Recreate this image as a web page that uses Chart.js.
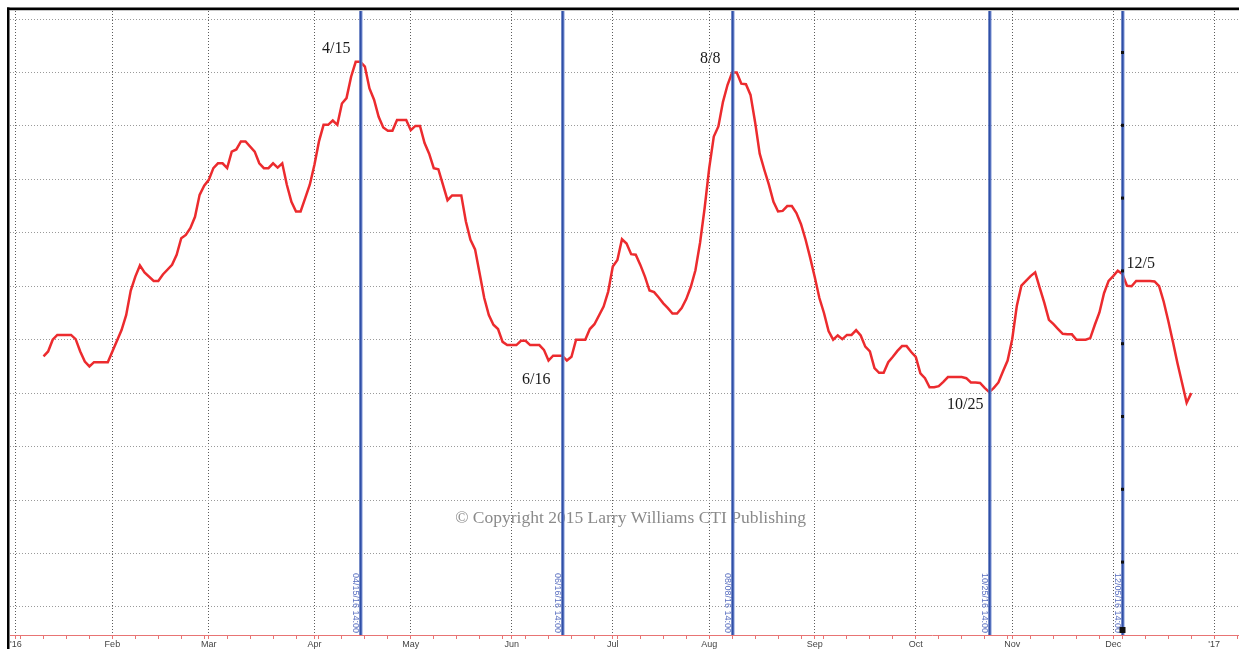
<!DOCTYPE html>
<html>
<head>
<meta charset="utf-8">
<script src="https://cdn.jsdelivr.net/npm/chart.js@4"></script>
<style>
  html, body { margin: 0; padding: 0; background: #fff; }
  #wrap { position: relative; width: 1239px; height: 649px; }
</style>
</head>
<body>
<div id="wrap"><canvas id="cycle"></canvas></div>
<script>
// x = weekday count from Jan 1 2016
const monthTickIdx = [0, 21, 42, 65, 86, 108, 130, 151, 174, 196, 217, 239, 261];
const monthLabels = ["'16", 'Feb', 'Mar', 'Apr', 'May', 'Jun', 'Jul', 'Aug', 'Sep', 'Oct', 'Nov', 'Dec', "'17"];
const gridValues = [0, 10, 20, 30, 40, 50, 60, 70, 80, 90, 100, 110];

// turning points (blue lines)
const turnIdx = [75, 119, 156, 212, 241];
const turnLabels = ['4/15', '6/16', '8/8', '10/25', '12/5'];
const turnStamps = ['04/15/16 14:00', '06/16/16 14:00', '08/08/16 14:00', '10/25/16 14:00', '12/05/16 14:00'];

const dayIndex = [
  6, 7, 8, 9, 12, 13, 14, 15, 16, 17, 20, 21, 23, 24, 25, 26, 27, 28, 30, 31,
  32, 34, 35, 36, 37, 38, 39, 40, 41, 42, 43, 44, 45, 46, 47, 48, 49, 50, 52, 53,
  54, 55, 56, 57, 58, 59, 60, 61, 62, 63, 64, 65, 66, 67, 68, 69, 70, 71, 72, 73,
  74, 75, 76, 77, 78, 79, 80, 81, 82, 83, 85, 86, 87, 88, 89, 90, 91, 92, 93, 94,
  95, 97, 98, 99, 100, 101, 102, 103, 104, 105, 106, 107, 109, 110, 111, 112, 114, 115, 116, 117,
  119, 120, 121, 122, 124, 125, 126, 128, 129, 130, 131, 132, 133, 134, 135, 136, 137, 138, 139, 140,
  141, 142, 143, 144, 145, 146, 147, 148, 149, 150, 151, 152, 153, 154, 155, 156, 157, 158, 159, 160,
  161, 162, 163, 164, 165, 166, 167, 168, 169, 170, 171, 172, 173, 174, 175, 176, 177, 178, 179, 180,
  181, 182, 183, 184, 185, 186, 187, 188, 189, 190, 191, 192, 193, 194, 195, 196, 197, 198, 199, 200,
  201, 202, 203, 204, 205, 206, 207, 208, 209, 210, 211, 212, 213, 214, 215, 216, 217, 218, 219, 220,
  221, 222, 223, 224, 225, 226, 227, 228, 229, 230, 231, 232, 233, 234, 235, 236, 237, 238, 239, 240,
  241, 242, 243, 244, 245, 246, 247, 248, 249, 250, 251, 252, 253, 254, 255, 256
];
const cycleValues = [
  46.9, 47.8, 50.0, 50.9, 50.9, 50.1, 47.8, 45.9, 45.0, 45.8, 45.8, 47.8, 51.8, 54.6, 59.2, 61.8, 63.9, 62.6, 61.0, 61.0,
  62.2, 64.0, 65.9, 69.0, 69.6, 70.9, 73.0, 77.1, 78.8, 79.9, 82.1, 83.0, 83.0, 82.1, 85.2, 85.6, 87.1, 87.1, 85.2, 83.0,
  82.1, 82.1, 83.0, 82.2, 83.0, 79.0, 75.8, 74.0, 74.0, 76.5, 79.0, 82.7, 87.1, 90.2, 90.2, 91.0, 90.2, 94.2, 95.2, 99.2,
  102.0, 102.0, 101.1, 97.0, 94.9, 91.7, 89.7, 89.1, 89.1, 91.1, 91.1, 89.2, 90.0, 90.0, 86.8, 84.8, 82.1, 81.9, 79.0, 76.1,
  77.0, 77.0, 72.1, 68.7, 66.9, 62.4, 57.8, 54.6, 52.8, 52.0, 49.6, 49.0, 49.0, 49.8, 49.8, 49.0, 49.0, 48.1, 46.1, 47.0,
  47.0, 46.1, 46.8, 50.0, 50.0, 52.0, 52.9, 56.2, 59.0, 63.7, 64.9, 68.8, 68.0, 66.0, 65.9, 64.0, 61.8, 59.2, 58.9, 57.9,
  56.8, 55.9, 54.9, 54.9, 55.9, 57.6, 59.9, 63.0, 68.1, 74.6, 82.1, 88.0, 89.9, 94.5, 97.7, 100.0, 100.0, 97.9, 97.8, 95.8,
  90.7, 84.8, 81.8, 79.0, 75.8, 74.0, 74.1, 75.0, 75.0, 73.7, 71.6, 68.7, 65.3, 61.7, 57.8, 55.0, 51.6, 50.0, 50.8, 50.1,
  50.9, 50.9, 51.8, 50.8, 48.7, 47.8, 44.7, 43.8, 43.8, 45.8, 46.8, 47.9, 48.8, 48.8, 47.7, 46.8, 43.7, 42.8, 41.1, 41.1,
  41.3, 42.1, 43.0, 43.0, 43.0, 43.0, 42.8, 42.0, 42.0, 41.9, 41.0, 40.2, 41.0, 42.0, 44.1, 46.1, 50.1, 56.3, 60.1, 61.0,
  61.9, 62.6, 59.7, 56.9, 53.7, 52.9, 52.0, 51.1, 51.0, 51.0, 50.0, 50.0, 50.0, 50.3, 52.8, 55.1, 58.7, 61.0, 61.9, 62.9,
  62.3, 60.1, 60.0, 61.0, 61.0, 61.0, 61.0, 60.9, 60.0, 57.1, 53.5, 49.6, 45.6, 41.9, 38.2, 40.0
];

// weekly (Monday) minor ticks plus month starts
const xTicks = [...monthTickIdx];
for (let d = 1; d < 267; d += 5) {
  if (!xTicks.includes(d)) xTicks.push(d);
}
xTicks.sort((a, b) => a - b);

// label placement relative to the blue line / curve: [dx, dy, align]
const labelOffsets = [[-10, -13, 'right'], [-12, 24, 'right'], [-12, -14, 'right'], [-6, 13, 'right'], [4, -10, 'left']];

function valueAt(idx) {
  let best = 0;
  for (let i = 0; i < dayIndex.length; i++) {
    if (Math.abs(dayIndex[i] - idx) < Math.abs(dayIndex[best] - idx)) best = i;
  }
  return cycleValues[best];
}

const overlay = {
  id: 'overlay',
  afterDatasetsDraw(chart) {
    const ctx = chart.ctx;
    const area = chart.chartArea;
    const xs = chart.scales.x, ys = chart.scales.y;
    ctx.save();

    // copyright
    ctx.font = '17.5px "Liberation Serif", serif';
    ctx.fillStyle = '#8a8a8a';
    ctx.textAlign = 'center';
    ctx.textBaseline = 'middle';
    ctx.fillText('\u00a9 Copyright 2015 Larry Williams CTI Publishing', area.left + (area.right - area.left) * 0.505, area.top + (area.bottom - area.top) * 0.813);

    turnIdx.forEach((d, i) => {
      const px = Math.round(xs.getPixelForValue(d)) + 0.5;
      // blue line
      ctx.strokeStyle = '#7f95d6';
      ctx.lineWidth = 3;
      ctx.beginPath();
      ctx.moveTo(px + 0.5, area.top);
      ctx.lineTo(px + 0.5, area.bottom);
      ctx.stroke();
      ctx.strokeStyle = '#2f4fa6';
      ctx.lineWidth = 2;
      ctx.beginPath();
      ctx.moveTo(px, area.top);
      ctx.lineTo(px, area.bottom);
      ctx.stroke();

      // rotated time stamp
      ctx.save();
      ctx.translate(px - 5, area.bottom - 2);
      ctx.rotate(Math.PI / 2);
      ctx.font = '9px "Liberation Sans", Arial, sans-serif';
      ctx.fillStyle = '#5a6fc0';
      ctx.textAlign = 'right';
      ctx.textBaseline = 'middle';
      ctx.fillText(turnStamps[i], 0, 0);
      ctx.restore();

      // date label
      const py = ys.getPixelForValue(valueAt(d));
      const off = labelOffsets[i];
      ctx.font = '16px "Liberation Serif", serif';
      ctx.fillStyle = '#1a1a1a';
      ctx.textAlign = off[2];
      ctx.textBaseline = 'middle';
      ctx.fillText(turnLabels[i], px + off[0], py + off[1]);
    });

    // marker dots on the last line
    const lastX = Math.round(xs.getPixelForValue(turnIdx[turnIdx.length - 1])) + 0.5;
    ctx.fillStyle = '#111';
    for (let y = area.top + 41; y < area.bottom - 40; y += 72.8) {
      ctx.fillRect(lastX - 1.5, y - 1, 3, 3);
    }
    ctx.fillRect(lastX - 3, area.bottom - 8, 6, 6);
    ctx.restore();
  },
  afterDraw(chart) {
    const ctx = chart.ctx;
    const area = chart.chartArea;
    ctx.save();
    ctx.fillStyle = '#c8c8c8';
    ctx.fillRect(area.left, area.top - 1, chart.width - area.left, 1);
    ctx.fillStyle = '#000';
    ctx.fillRect(area.left - 3, area.top - 3.5, chart.width, 2.5);
    ctx.fillRect(area.left - 3, area.top - 3.5, 2.5, chart.height);
    ctx.restore();
  }
};

new Chart(document.getElementById('cycle'), {
  type: 'line',
  data: {
    datasets: [{
      data: dayIndex.map((d, i) => ({ x: d, y: cycleValues[i] })),
      borderColor: '#ec2b2e',
      borderWidth: 2.5,
      pointRadius: 0,
      tension: 0,
      fill: false
    }]
  },
  options: {
    responsive: true,
    maintainAspectRatio: false,
    animation: false,
    layout: { padding: { top: 11, left: 0, right: 0, bottom: 0 } },
    plugins: { legend: { display: false }, tooltip: { enabled: false } },
    scales: {
      x: {
        type: 'linear',
        min: -1.3,
        max: 266.4,
        afterBuildTicks: (s) => { s.ticks = xTicks.map(v => ({ value: v })); },
        afterFit: (s) => { s.height = 14; s.paddingLeft = 0; s.paddingRight = 0; },
        ticks: {
          autoSkip: false,
          maxRotation: 0,
          padding: 0,
          color: '#444',
          font: { family: 'Liberation Sans', size: 9 },
          callback: (v) => {
            const i = monthTickIdx.indexOf(v);
            return i >= 0 ? monthLabels[i] : '';
          }
        },
        grid: {
          color: (c) => (c.tick && monthTickIdx.includes(c.tick.value)) ? '#5c5c5c' : 'rgba(0,0,0,0)',
          lineWidth: 1,
          tickColor: '#e87474',
          tickLength: 4
        },
        border: { color: '#e87474', width: 1, dash: [1, 2] }
      },
      y: {
        min: -5.25,
        max: 111.5,
        afterBuildTicks: (s) => { s.ticks = gridValues.map(v => ({ value: v })); },
        afterFit: (s) => { s.width = 10; },
        ticks: { display: false },
        grid: { color: '#9a9a9a', lineWidth: 1, drawTicks: false },
        border: { display: false, dash: [1, 2] }
      }
    }
  },
  plugins: [overlay]
});
</script>
</body>
</html>
